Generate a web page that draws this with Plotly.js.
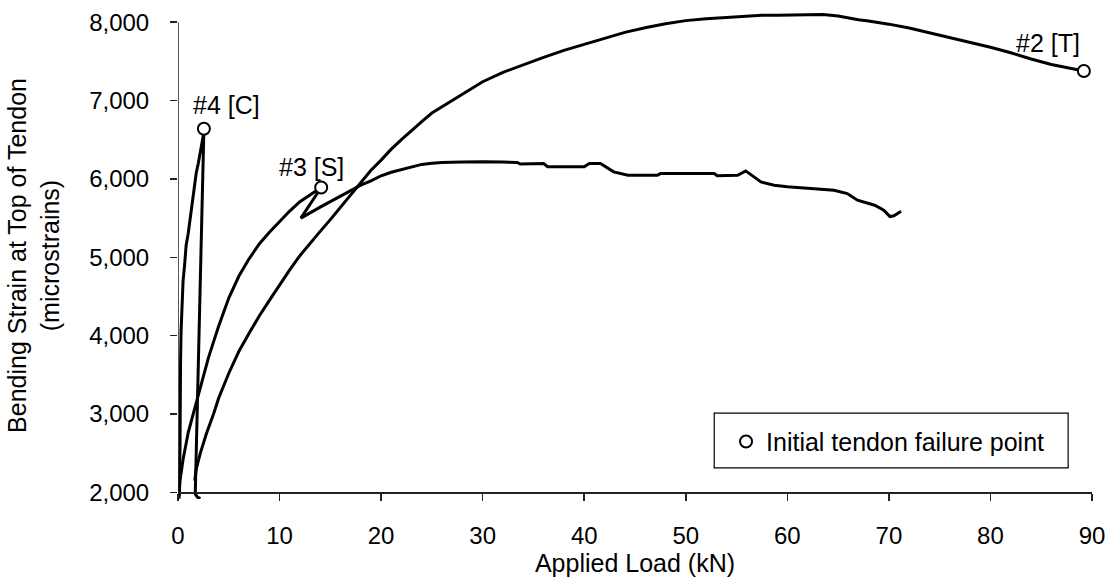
<!DOCTYPE html>
<html>
<head>
<meta charset="utf-8">
<script src="https://cdn.plot.ly/plotly-3.0.1.min.js"></script>
<style>html,body{margin:0;padding:0;background:#fff;}</style>
</head>
<body>
<div id="chart" style="width:1115px;height:578px;"></div>
<script>
// Specimen #2 [T]
const spec2Load = [1.65, 1.80, 2.20, 2.80, 3.50, 4.00, 5.00, 6.00, 7.00, 8.00, 9.00, 10.0, 11.0, 12.0, 13.0, 14.0, 15.0, 16.0, 17.0, 18.0, 19.0, 20.0, 21.0, 22.0, 23.0, 24.0, 25.0, 26.0, 27.0, 28.0, 30.0, 32.0, 34.0, 36.0, 38.0, 40.0, 42.0, 44.0, 46.0, 48.0, 50.0, 52.0, 54.0, 56.0, 57.5, 59.0, 62.0, 63.5, 65.0, 66.0, 67.0, 68.0, 70.0, 72.0, 74.0, 76.0, 78.0, 80.0, 82.0, 84.0, 86.0, 88.0, 89.2];
const spec2Strain = [2150, 2300, 2500, 2750, 3000, 3200, 3520, 3800, 4030, 4250, 4450, 4650, 4840, 5020, 5180, 5330, 5480, 5640, 5800, 5960, 6110, 6240, 6380, 6500, 6620, 6730, 6840, 6920, 7000, 7090, 7240, 7360, 7460, 7550, 7640, 7720, 7800, 7870, 7930, 7980, 8020, 8045, 8060, 8075, 8090, 8089, 8089, 8098, 8080, 8055, 8030, 8015, 7975, 7925, 7865, 7800, 7745, 7680, 7610, 7530, 7460, 7405, 7378];

// Specimen #3 [S]
const spec3Load = [0.10, 0.20, 0.50, 1.00, 1.50, 2.00, 2.50, 3.00, 3.50, 4.00, 5.00, 6.00, 7.00, 8.00, 9.00, 10.0, 11.0, 12.0, 13.0, 13.6, 14.1, 12.1, 13.0, 14.0, 15.0, 16.0, 17.0, 18.0, 19.0, 20.0, 21.0, 22.0, 23.0, 24.0, 25.0, 26.0, 28.0, 30.0, 32.0, 33.4, 33.7, 36.0, 36.4, 40.0, 40.5, 41.6, 42.9, 44.3, 47.2, 47.5, 52.8, 53.1, 55.1, 55.9, 57.4, 58.7, 60.0, 62.6, 64.6, 65.9, 66.9, 68.6, 69.5, 70.1, 70.5, 71.2];
const spec3Strain = [1950, 2150, 2420, 2760, 3000, 3250, 3480, 3720, 3920, 4120, 4480, 4760, 4980, 5170, 5320, 5460, 5590, 5710, 5800, 5850, 5890, 5500, 5570, 5640, 5710, 5780, 5850, 5920, 5975, 6040, 6085, 6120, 6155, 6185, 6200, 6210, 6215, 6220, 6215, 6210, 6190, 6195, 6155, 6155, 6196, 6196, 6090, 6047, 6047, 6068, 6068, 6040, 6047, 6102, 5961, 5920, 5900, 5877, 5855, 5813, 5728, 5664, 5600, 5520, 5530, 5587];

// Specimen #4 [C]
const spec4Load = [0.10, 0.15, 0.20, 0.20, 0.25, 0.30, 0.35, 0.50, 0.65, 0.80, 1.00, 1.20, 1.40, 1.60, 1.80, 2.00, 2.20, 2.40, 2.50, 2.55, 2.41, 2.25, 2.09, 1.93, 1.79, 1.69, 1.65, 1.70, 1.90, 2.20];
const spec4Strain = [1920, 2100, 2600, 3300, 3650, 4050, 4300, 4700, 4900, 5150, 5300, 5500, 5680, 5920, 6080, 6200, 6330, 6460, 6560, 6640, 5900, 5100, 4300, 3500, 2800, 2300, 2080, 1980, 1940, 1920];

// Initial tendon failure points
const failureLabels = ['#2 [T]', '#3 [S]', '#4 [C]'];
const failureLoad = [89.2, 14.1, 2.55];
const failureStrain = [7378, 5890, 6640];

// Axis ticks
const xTicks = [0, 10, 20, 30, 40, 50, 60, 70, 80, 90];
const yTicks = [2000, 3000, 4000, 5000, 6000, 7000, 8000];

const FONT = 'Liberation Sans, Arial, Helvetica, sans-serif';
const lineStyle = {color: '#000', width: 3};

const traces = [
  {x: spec2Load, y: spec2Strain, name: failureLabels[0], mode: 'lines', line: lineStyle, showlegend: false, hoverinfo: 'x+y+name'},
  {x: spec3Load, y: spec3Strain, name: failureLabels[1], mode: 'lines', line: lineStyle, showlegend: false, hoverinfo: 'x+y+name'},
  {x: spec4Load, y: spec4Strain, name: failureLabels[2], mode: 'lines', line: lineStyle, showlegend: false, hoverinfo: 'x+y+name'},
  {x: failureLoad, y: failureStrain, name: 'Initial tendon failure point', mode: 'markers',
   marker: {symbol: 'circle', size: 12, color: '#fff', line: {color: '#000', width: 2}},
   cliponaxis: false, showlegend: true}
];

const labelShifts = [[-36, 28], [-10, 21], [23, 24]];
const annotations = failureLabels.map((t, i) => ({
  x: failureLoad[i], y: failureStrain[i], xref: 'x', yref: 'y',
  text: t, showarrow: false, xanchor: 'center', yanchor: 'middle',
  xshift: labelShifts[i][0], yshift: labelShifts[i][1],
  font: {family: FONT, size: 25, color: '#000'}
}));

const yMin = 1915, yMax = 8130;

const layout = {
  width: 1115, height: 578,
  margin: {l: 178, r: 23, t: 12, b: 79, pad: 0},
  paper_bgcolor: '#fff', plot_bgcolor: '#fff',
  font: {family: FONT, color: '#000'},
  xaxis: {
    range: [0, 90], anchor: 'free', position: (2000 - yMin) / (yMax - yMin),
    tickvals: xTicks, ticks: 'outside', ticklen: 7, tickwidth: 1.5, tickcolor: '#222',
    showline: true, linecolor: '#222', linewidth: 1.5,
    showgrid: false, zeroline: false, ticklabelstandoff: 14,
    tickfont: {family: FONT, size: 24, color: '#000'},
    title: {text: 'Applied Load (kN)', font: {family: FONT, size: 25, color: '#000'}, standoff: 4}
  },
  yaxis: {
    range: [yMin, yMax], tickvals: yTicks, tickformat: ',d',
    ticks: 'outside', ticklen: 7, tickwidth: 1.5, tickcolor: '#222',
    showline: false, showgrid: false, zeroline: false, ticklabelstandoff: 16,
    tickfont: {family: FONT, size: 24, color: '#000'},
    title: {text: 'Bending Strain at Top of Tendon<br>(microstrains)', font: {family: FONT, size: 25, color: '#000'}, standoff: 22}
  },
  shapes: [
    {type: 'line', xref: 'x', yref: 'y', x0: 0, x1: 0, y0: 2000, y1: 8000, line: {color: '#222', width: 1.5}},
    {type: 'rect', xref: 'x', yref: 'y', x0: 52.8, x1: 87.65, y0: 2313, y1: 3010, line: {color: '#000', width: 1.2}, fillcolor: 'rgba(0,0,0,0)'}
  ],
  legend: {
    x: 0.5996, y: 0.1177, xanchor: 'left', yanchor: 'middle',
    bgcolor: 'rgba(0,0,0,0)', borderwidth: 0,
    font: {family: FONT, size: 25, color: '#000'}
  },
  annotations: annotations,
  showlegend: true
};

Plotly.newPlot('chart', traces, layout, {displayModeBar: false, staticPlot: true});
</script>
</body>
</html>
